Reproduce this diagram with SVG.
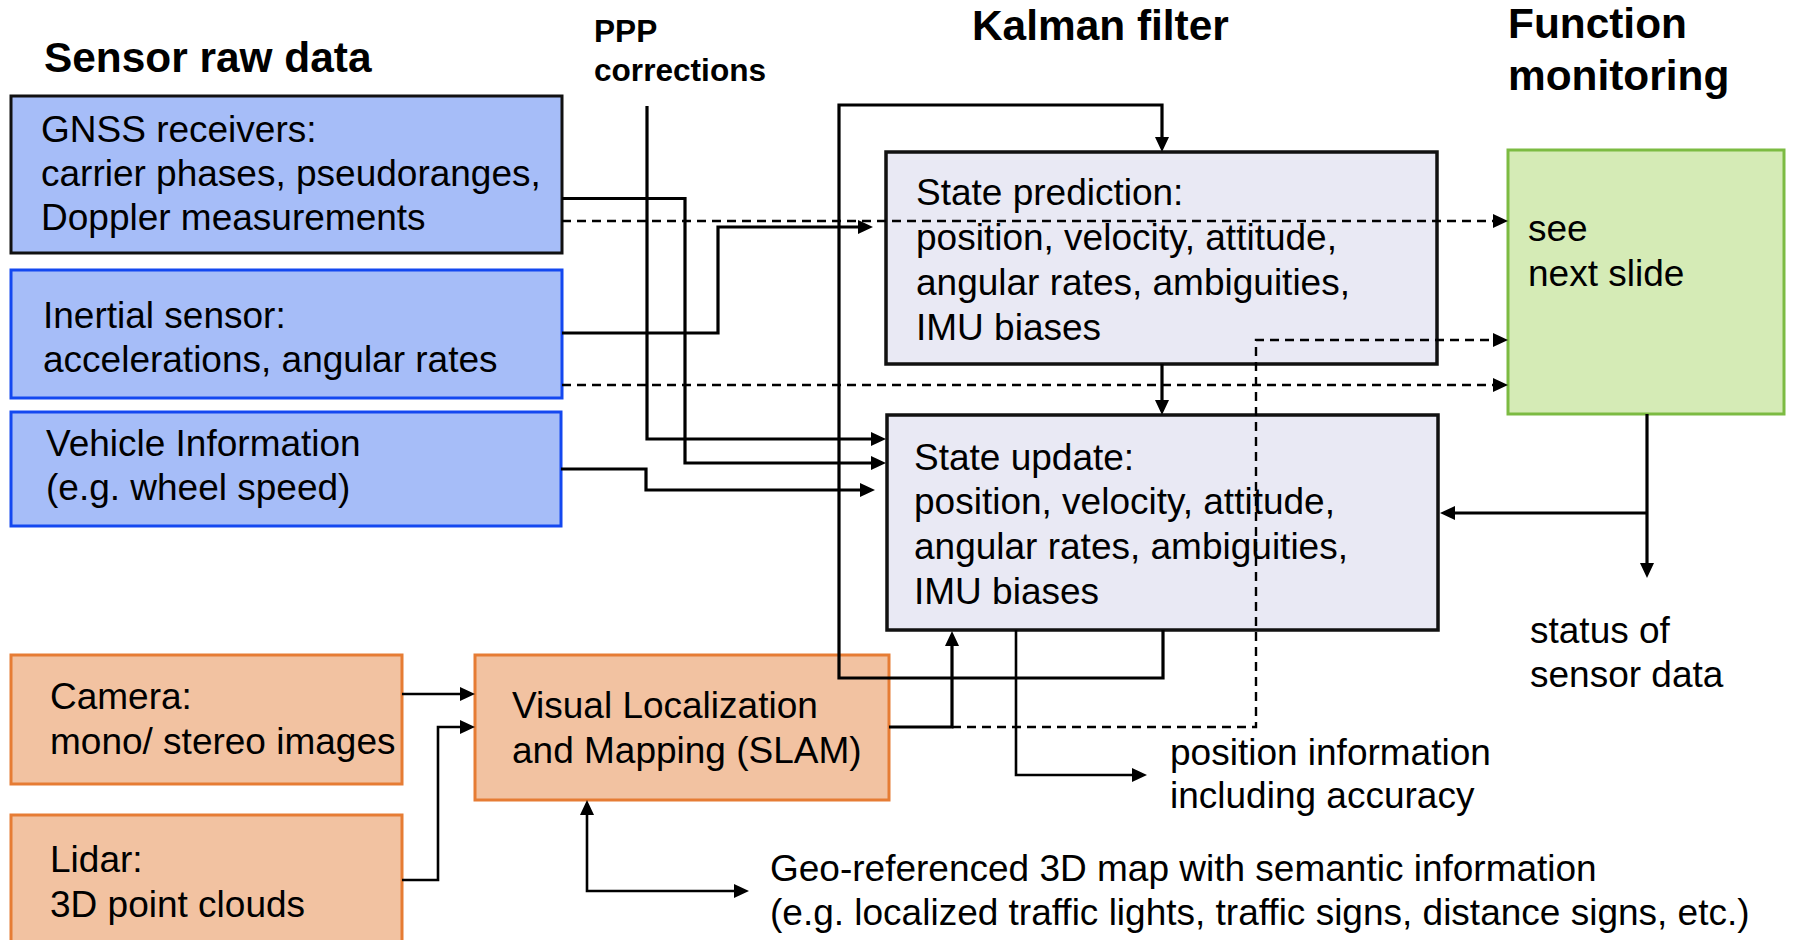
<svg xmlns="http://www.w3.org/2000/svg" width="1793" height="940" viewBox="0 0 1793 940">
  <style>
    text { font-family: "Liberation Sans", Arial, sans-serif; fill: #000; }
    .title { font-size: 42.4px; font-weight: bold; }
    .small-title { font-size: 31.6px; font-weight: bold; }
    .body { font-size: 37px; }
    .sensor { fill: #a6bdf8; stroke-width: 3; }
    .gnss { stroke: #111; }
    .blue { stroke: #1448f0; }
    .orange { fill: #f2c2a1; stroke: #e67c34; stroke-width: 3; }
    .kalman { fill: #e9e9f4; stroke: #111; stroke-width: 3.5; }
    .monitor { fill: #d5ebb6; stroke: #7cbb42; stroke-width: 3; }
    .wire { fill: none; stroke: #000; stroke-width: 3.2; }
    .thin { fill: none; stroke: #000; stroke-width: 2.6; }
    .dash { fill: none; stroke: #000; stroke-width: 2.4; stroke-dasharray: 9 6; }
    .arrow { marker-end: url(#head); }
  </style>
  <defs>
    <marker id="head" markerUnits="userSpaceOnUse" markerWidth="15" markerHeight="14" refX="11" refY="7" orient="auto-start-reverse">
      <path d="M0,0 L15,7 L0,14 z" fill="#000"/>
    </marker>
  </defs>

  <rect width="1793" height="940" fill="#fff"/>

  <!-- column headings -->
  <g id="headings">
    <text class="title" x="44" y="72">Sensor raw data</text>
    <text class="title" x="972" y="40">Kalman filter</text>
    <text class="title" x="1508" y="38">Function</text>
    <text class="title" x="1508" y="90">monitoring</text>
    <text class="small-title" x="594" y="42">PPP</text>
    <text class="small-title" x="594" y="81">corrections</text>
  </g>

  <!-- sensor sources -->
  <g id="gnss">
    <rect class="sensor gnss" x="11" y="96" width="551" height="157"/>
    <text class="body" x="41" y="142">GNSS receivers:</text>
    <text class="body" x="41" y="186">carrier phases, pseudoranges,</text>
    <text class="body" x="41" y="230">Doppler measurements</text>
  </g>
  <g id="inertial">
    <rect class="sensor blue" x="11" y="270" width="551" height="128"/>
    <text class="body" x="43" y="328">Inertial sensor:</text>
    <text class="body" x="43" y="372">accelerations, angular rates</text>
  </g>
  <g id="vehicle">
    <rect class="sensor blue" x="11" y="412" width="550" height="114"/>
    <text class="body" x="46" y="456">Vehicle Information</text>
    <text class="body" x="46" y="500">(e.g. wheel speed)</text>
  </g>
  <g id="camera">
    <rect class="orange" x="11" y="655" width="391" height="129"/>
    <text class="body" x="50" y="709">Camera:</text>
    <text class="body" x="50" y="754">mono/ stereo images</text>
  </g>
  <g id="lidar">
    <rect class="orange" x="11" y="815" width="391" height="140"/>
    <text class="body" x="50" y="872">Lidar:</text>
    <text class="body" x="50" y="917">3D point clouds</text>
  </g>
  <g id="slam">
    <rect class="orange" x="475" y="655" width="414" height="145"/>
    <text class="body" x="512" y="718">Visual Localization</text>
    <text class="body" x="512" y="763">and Mapping (SLAM)</text>
  </g>

  <!-- Kalman filter stages -->
  <g id="prediction">
    <rect class="kalman" x="886" y="152" width="551" height="212"/>
    <text class="body" x="916" y="205">State prediction:</text>
    <text class="body" x="916" y="250">position, velocity, attitude,</text>
    <text class="body" x="916" y="295">angular rates, ambiguities,</text>
    <text class="body" x="916" y="340">IMU biases</text>
  </g>
  <g id="update">
    <rect class="kalman" x="887" y="415" width="551" height="215"/>
    <text class="body" x="914" y="470">State update:</text>
    <text class="body" x="914" y="514">position, velocity, attitude,</text>
    <text class="body" x="914" y="559">angular rates, ambiguities,</text>
    <text class="body" x="914" y="604">IMU biases</text>
  </g>

  <!-- monitoring -->
  <g id="monitoring">
    <rect class="monitor" x="1508" y="150" width="276" height="264"/>
    <text class="body" x="1528" y="241">see</text>
    <text class="body" x="1528" y="286">next slide</text>
  </g>

  <!-- output labels -->
  <g id="status-label">
    <text class="body" x="1530" y="643">status of</text>
    <text class="body" x="1530" y="687">sensor data</text>
  </g>
  <g id="position-label">
    <text class="body" x="1170" y="765">position information</text>
    <text class="body" x="1170" y="808">including accuracy</text>
  </g>
  <g id="map-label">
    <text class="body" x="770" y="881">Geo-referenced 3D map with semantic information</text>
    <text class="body" x="770" y="925">(e.g. localized traffic lights, traffic signs, distance signs, etc.)</text>
  </g>

  <!-- connectors -->
  <g id="connectors">
    <!-- inputs to the state update -->
    <path class="wire arrow" d="M647 106 V439 H882"/>
    <path class="wire arrow" d="M562 198.5 H685 V463 H882"/>
    <path class="wire arrow" d="M561 469 H646 V490 H871"/>
    <!-- inertial data into the prediction -->
    <path class="wire arrow" d="M562 333 H718 V227 H869"/>
    <!-- raw data into monitoring -->
    <path class="dash arrow" d="M562 221 H1504"/>
    <path class="dash arrow" d="M562 385 H1504"/>
    <!-- filter loop: update back to prediction -->
    <path class="wire arrow" d="M1163 630 V678 H839 V105 H1162 V148"/>
    <path class="wire arrow" d="M1162 364 V411"/>
    <!-- SLAM result into update and monitoring -->
    <path class="wire arrow" d="M889 727 H952 V635"/>
    <path class="dash arrow" d="M952 727 H1256 V340 H1504"/>
    <!-- position output -->
    <path class="thin arrow" d="M1016 630 V775 H1143"/>
    <!-- monitoring outputs -->
    <path class="wire arrow" d="M1647 414 V574"/>
    <path class="wire arrow" d="M1647 513 H1444"/>
    <!-- camera and lidar into SLAM -->
    <path class="thin arrow" d="M402 694 H471"/>
    <path class="thin arrow" d="M402 880 H438 V727 H471"/>
    <!-- SLAM to and from the 3D map -->
    <path class="thin arrow" marker-start="url(#head)" d="M587 804 V891 H745"/>
  </g>
</svg>
